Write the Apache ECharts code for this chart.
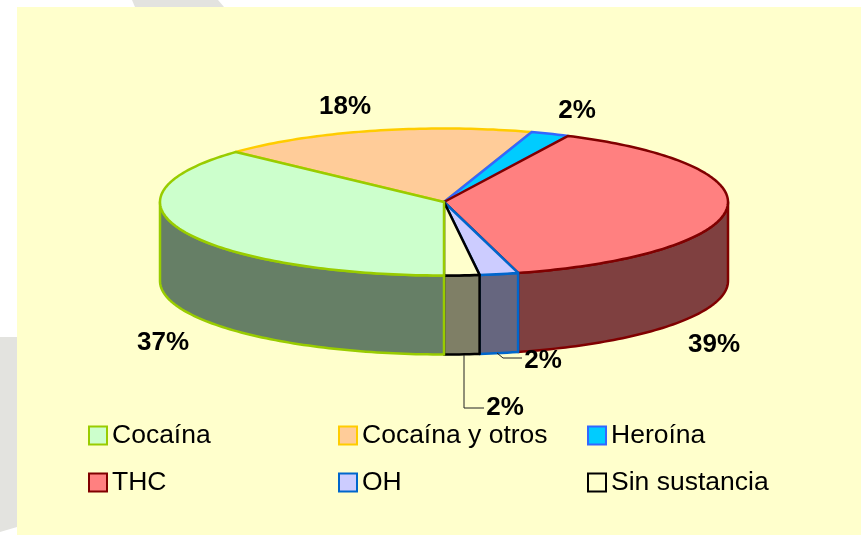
<!DOCTYPE html>
<html>
<head>
<meta charset="utf-8">
<style>html,body{margin:0;padding:0;background:#fff}#c{width:861px;height:535px}</style>
<script src="https://cdn.jsdelivr.net/npm/echarts@6/dist/echarts.min.js"></script>
</head>
<body>
<div id="c"></div>
<script>
// ---- data ----
const categories = ['Cocaína', 'Cocaína y otros', 'Heroína', 'THC', 'OH', 'Sin sustancia'];
const shares = [36.9, 18.1, 2.2, 38.6, 2.2, 2.0];

// ---- styles ----
const fills   = ['#CCFFCC', '#FFCC99', '#00CCFF', '#FF8080', '#CCCCFF', '#FFFFCC'];
const borders = ['#99CC00', '#FFCC00', '#3366FF', '#800000', '#0066CC', '#000000'];
const sides   = ['#667F66', '#7F664C', '#00667F', '#7F4040', '#66667F', '#7F7F66'];
const FONT = '"Liberation Sans", Arial, sans-serif';

// ---- layout ----
const pie = { cx: 444, cy: 202, a: 284, b: 73.5, depth: 79 };
const labelSpots = [[163, 343], [345, 107], [577, 111], [714, 345], [543, 361], [505, 408]];
const leaders = { 4: [[497, 353], [503, 358], [522, 358]], 5: [[464, 355], [464, 408], [484, 408]] };
const legendSpots = [[88, 422], [338, 422], [587, 422], [88, 469], [338, 469], [587, 469]];

const total = shares.reduce((s, v) => s + v, 0);
const cumulative = shares.map((_, i) => shares.slice(0, i).reduce((s, v) => s + v, 0));

// theta is measured clockwise from the front of the ellipse
function rim(theta) {
  return [pie.cx - pie.a * Math.sin(theta), pie.cy + pie.b * Math.cos(theta)];
}
function arcPoints(t0, t1) {
  const pts = [];
  const n = Math.max(2, Math.ceil((t1 - t0) / 0.02));
  for (let k = 0; k <= n; k++) pts.push(rim(t0 + (t1 - t0) * k / n));
  return pts;
}
// parts of [t0,t1] on the near half of the rim
function nearParts(t0, t1) {
  const q = Math.PI / 2, out = [];
  const a0 = Math.max(t0, 0), a1 = Math.min(t1, q);
  if (a1 > a0) out.push([a0, a1]);
  const b0 = Math.max(t0, 3 * q), b1 = Math.min(t1, 4 * q);
  if (b1 > b0) out.push([b0, b1]);
  return out;
}

function renderSlice(params, api) {
  const i = params.seriesIndex;
  const value = api.value(0), before = api.value(1), sum = api.value(2);
  const t0 = before / sum * 2 * Math.PI;
  const t1 = (before + value) / sum * 2 * Math.PI;
  const children = [];
  nearParts(t0, t1).forEach(([s, e]) => {
    const top = arcPoints(s, e);
    const bottom = top.map(p => [p[0], p[1] + pie.depth]).reverse();
    children.push({
      type: 'polygon',
      shape: { points: top.concat(bottom) },
      style: { fill: sides[i], stroke: borders[i], lineWidth: 2.5, lineJoin: 'round' }
    });
  });
  children.push({
    type: 'polygon',
    shape: { points: [[pie.cx, pie.cy]].concat(arcPoints(t0, t1)) },
    style: { fill: fills[i], stroke: borders[i], lineWidth: 2.5, lineJoin: 'round' }
  });
  if (leaders[i]) {
    children.push({
      type: 'polyline',
      shape: { points: leaders[i] },
      style: { fill: null, stroke: '#222222', lineWidth: 1 }
    });
  }
  children.push({
    type: 'text',
    style: {
      text: Math.round(value / sum * 100) + '%',
      x: labelSpots[i][0], y: labelSpots[i][1],
      align: 'center', verticalAlign: 'middle',
      fill: '#000', font: 'bold 26px ' + FONT
    },
    z2: 50
  });
  return { type: 'group', children };
}

const chart = echarts.init(document.getElementById('c'), null, { renderer: 'canvas' });
chart.setOption({
  animation: false,
  backgroundColor: '#FFFFFF',
  graphic: [
    { type: 'polygon', z: -3, silent: true, shape: { points: [[132, 0], [218, 0], [224, 7], [135, 7]] }, style: { fill: '#E3E3DF' } },
    { type: 'polygon', z: -3, silent: true, shape: { points: [[0, 337], [17, 337], [17, 527], [0, 532]] }, style: { fill: '#E3E3DF' } },
    { type: 'rect', z: -2, silent: true, shape: { x: 17, y: 7, width: 844, height: 528 }, style: { fill: '#FFFFCC' } }
  ],
  legend: categories.map((name, i) => ({
    left: legendSpots[i][0],
    top: legendSpots[i][1],
    orient: 'horizontal',
    padding: 0,
    selectedMode: false,
    icon: 'rect',
    itemWidth: 18,
    itemHeight: 18,
    textStyle: { color: '#000', fontFamily: FONT, fontSize: 26.5 },
    data: [{
      name,
      icon: 'rect',
      itemStyle: { color: fills[i], borderColor: borders[i], borderWidth: 2 }
    }]
  })),
  series: categories.map((name, i) => ({
    type: 'custom',
    name,
    coordinateSystem: 'none',
    silent: true,
    z: 2 + (i + categories.length - 1) % categories.length,
    itemStyle: { color: fills[i], borderColor: borders[i], borderWidth: 2 },
    renderItem: renderSlice,
    data: [[shares[i], cumulative[i], total]]
  }))
});
</script>
</body>
</html>
